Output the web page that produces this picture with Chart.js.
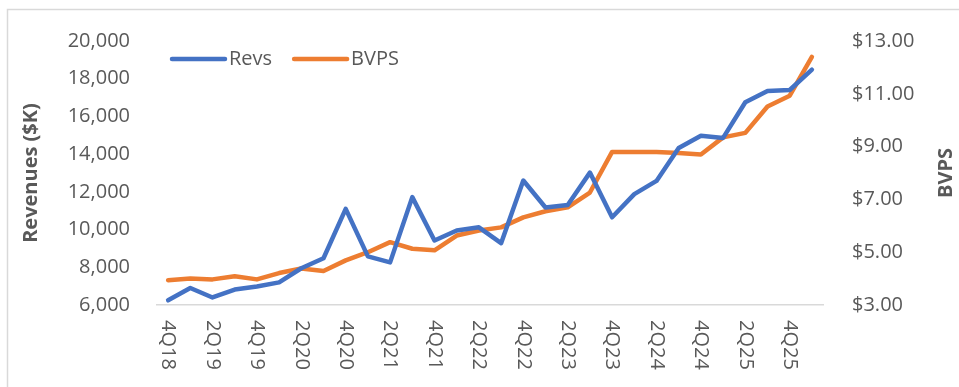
<!DOCTYPE html>
<html>
<head>
<meta charset="utf-8">
<title>Revs vs BVPS</title>
<script src="https://cdn.jsdelivr.net/npm/chart.js@4.4.1/dist/chart.umd.min.js"></script>
<style>
	html, body { margin: 0; padding: 0; background: #fff; }
	#revsChart { display: block; }
</style>
</head>
<body>
<canvas id="revsChart" width="959" height="387"></canvas>
<script>
// Quarter labels, 4Q18 .. 1Q26
const quarters = [
	'4Q18',
	'1Q19', '2Q19', '3Q19', '4Q19',
	'1Q20', '2Q20', '3Q20', '4Q20',
	'1Q21', '2Q21', '3Q21', '4Q21',
	'1Q22', '2Q22', '3Q22', '4Q22',
	'1Q23', '2Q23', '3Q23', '4Q23',
	'1Q24', '2Q24', '3Q24', '4Q24',
	'1Q25', '2Q25', '3Q25', '4Q25',
	'1Q26'
];

// Revenues ($K), left axis
const revs = [
	6250,
	6900, 6400, 6820, 6980,
	7200, 7950, 8480, 11100,
	8580, 8260, 11720, 9420,
	9950, 10120, 9280, 12600,
	11170, 11300, 13020, 10650,
	11880, 12580, 14330, 14980,
	14860, 16750, 17350, 17400,
	18480
];

// Book value per share, right axis
const bvps = [
	3.94,
	4.00, 3.97, 4.09, 3.97,
	4.21, 4.38, 4.29, 4.69,
	5.00, 5.38, 5.13, 5.07,
	5.63, 5.82, 5.94, 6.32,
	6.55, 6.70, 7.26, 8.80,
	8.80, 8.80, 8.76, 8.70,
	9.35, 9.52, 10.52, 10.93,
	12.40
];

const revTicks = { min: 6000, max: 20000, step: 2000 };
const bvpsTicks = { min: 3, max: 13, step: 2 };

const BLUE = '#4472C4';
const ORANGE = '#ED7D31';
const TEXT = '#595959';
const FONT = '"Open Sans", "DejaVu Sans", sans-serif';

/**
 * Extras Excel draws that Chart.js does not: frame, inset legend,
 * downward x labels and the rotated axis titles.
 */
const excelExtras = {
	id: 'excelExtras',
	beforeDraw: function(chart) {
		const ctx = chart.ctx;
		ctx.save();
		ctx.strokeStyle = '#d9d9d9';
		ctx.lineWidth = 1.5;
		ctx.strokeRect(7.5, 9.5, 1200, 600);
		ctx.restore();
	},
	afterDraw: function(chart) {
		const ctx = chart.ctx;
		const area = chart.chartArea;
		const x = chart.scales.x;
		const midY = (area.top + area.bottom) / 2;

		ctx.save();
		ctx.fillStyle = TEXT;

		// x labels, every other quarter, reading downward
		ctx.font = '20px ' + FONT;
		ctx.textAlign = 'left';
		ctx.textBaseline = 'middle';
		quarters.forEach(function(q, i) {
			if (i % 2 !== 0) return;
			ctx.save();
			ctx.translate(x.getPixelForValue(i), x.top + 15);
			ctx.rotate(Math.PI / 2);
			ctx.fillText(q, 0, 0);
			ctx.restore();
		});

		// Axis titles
		ctx.font = 'bold 20px ' + FONT;
		ctx.textAlign = 'center';
		ctx.save();
		ctx.translate(31, midY);
		ctx.rotate(-Math.PI / 2);
		ctx.fillText('Revenues ($K)', 0, 0);
		ctx.restore();

		ctx.save();
		ctx.translate(946, midY);
		ctx.rotate(-Math.PI / 2);
		ctx.fillText('BVPS', 0, 0);
		ctx.restore();

		// Legend inside the plot
		ctx.font = '20px ' + FONT;
		ctx.textAlign = 'left';
		ctx.lineCap = 'round';
		ctx.lineWidth = 4.5;
		let lx = area.left + 15;
		const ly = 59;
		chart.data.datasets.forEach(function(ds) {
			ctx.strokeStyle = ds.borderColor;
			ctx.beginPath();
			ctx.moveTo(lx, ly);
			ctx.lineTo(lx + 53, ly);
			ctx.stroke();
			ctx.fillText(ds.label, lx + 57, ly);
			lx += 57 + ctx.measureText(ds.label).width + 22;
		});

		ctx.restore();
	}
};

new Chart(document.getElementById('revsChart'), {
	type: 'line',
	data: {
		labels: quarters,
		datasets: [{
			label: 'Revs',
			data: revs,
			yAxisID: 'y',
			borderColor: BLUE,
			backgroundColor: BLUE,
			borderWidth: 4.5,
			borderJoinStyle: 'round',
			borderCapStyle: 'round',
			pointRadius: 0,
			tension: 0
		}, {
			label: 'BVPS',
			data: bvps,
			yAxisID: 'y1',
			borderColor: ORANGE,
			backgroundColor: ORANGE,
			borderWidth: 4.5,
			borderJoinStyle: 'round',
			borderCapStyle: 'round',
			pointRadius: 0,
			tension: 0
		}]
	},
	options: {
		responsive: false,
		animation: false,
		layout: {
			padding: { top: 39, left: 0, right: 0, bottom: 0 }
		},
		plugins: {
			legend: { display: false },
			tooltip: { enabled: false }
		},
		scales: {
			x: {
				offset: true,
				grid: { display: false, drawTicks: false },
				border: { display: true, color: '#d9d9d9', width: 1.5 },
				ticks: { display: false },
				afterFit: function(scale) { scale.height = 82; }
			},
			y: {
				position: 'left',
				min: revTicks.min,
				max: revTicks.max,
				grid: { display: false, drawTicks: false },
				border: { display: false },
				ticks: {
					stepSize: revTicks.step,
					padding: 27,
					color: TEXT,
					font: { family: FONT, size: 20 },
					callback: function(v) { return v.toLocaleString('en-US'); }
				},
				afterFit: function(scale) { scale.width = 157; }
			},
			y1: {
				position: 'right',
				min: bvpsTicks.min,
				max: bvpsTicks.max,
				grid: { display: false, drawTicks: false },
				border: { display: false },
				ticks: {
					stepSize: bvpsTicks.step,
					padding: 29,
					color: TEXT,
					font: { family: FONT, size: 20 },
					callback: function(v) { return '$' + v.toFixed(2); }
				},
				afterFit: function(scale) { scale.width = 136; }
			}
		}
	},
	plugins: [excelExtras]
});
</script>
</body>
</html>
